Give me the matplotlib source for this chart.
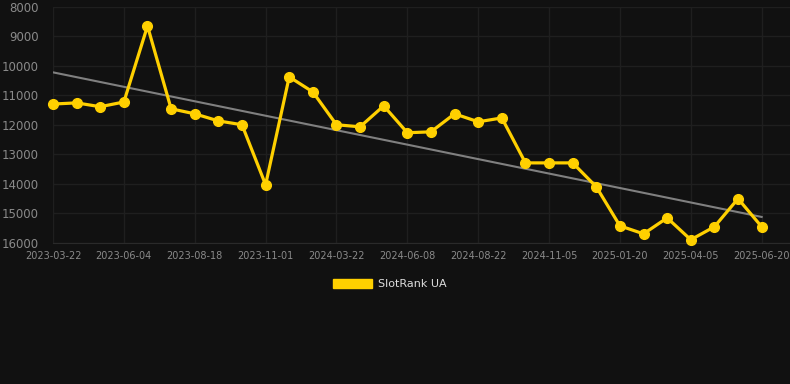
import numpy as np
import matplotlib.pyplot as plt

# SlotRank UA position over time (lower is better, axis inverted)
dates = ["2023-03-22", "", "", "2023-06-04", "", "", "2023-08-18", "", "",
         "2023-11-01", "", "", "2024-03-22", "", "", "2024-06-08", "", "",
         "2024-08-22", "", "", "2024-11-05", "", "", "2025-01-20", "", "",
         "2025-04-05", "", "", "2025-06-20"]
rank = [11300, 11260, 11390, 11230, 8660, 11460, 11630, 11870, 12000, 14030,
        10380, 10890, 12000, 12070, 11360, 12270, 12240, 11630, 11900, 11770,
        13290, 13290, 13290, 14100, 15420, 15690, 15150, 15890, 15450, 14500,
        15450]
y_ticks = [8000, 9000, 10000, 11000, 12000, 13000, 14000, 15000, 16000]

bg = "#111111"
yellow = "#ffd000"

x = np.arange(len(rank))
slope, icpt = np.polyfit(x, rank, 1)

fig = plt.figure(figsize=(7.9, 3.84), dpi=100, facecolor=bg)
ax = fig.add_axes([53 / 790, 1 - 243 / 384, 737 / 790, 236.5 / 384])
ax.set_facecolor(bg)

ax.plot(x, slope * x + icpt, color="#808080", lw=1.5, zorder=2)
ax.plot(x, rank, color=yellow, lw=2.3, marker="o", ms=7,
        clip_on=False, zorder=3, label="SlotRank UA")

ax.set_xlim(0, 31.2)
ax.set_ylim(16000, 8000)
ax.set_yticks(y_ticks)
ax.set_yticklabels([str(v) for v in y_ticks])
tick_pos = [i for i, d in enumerate(dates) if d]
ax.set_xticks(tick_pos)
ax.set_xticklabels([dates[i] for i in tick_pos])

ax.grid(True, color="#1f1f1f", lw=1)
ax.set_axisbelow(True)
for s in ["top", "right", "left"]:
    ax.spines[s].set_visible(False)
ax.spines["bottom"].set_color("#2a2a2a")
ax.tick_params(axis="y", length=0, pad=10, labelsize=8.5, labelcolor="#8a8a8a")
ax.tick_params(axis="x", length=0, pad=6, labelsize=7, labelcolor="#8a8a8a")

handle = plt.Rectangle((0, 0), 1, 1, color=yellow)
fig.legend([handle], ["SlotRank UA"], loc="center", bbox_to_anchor=(390 / 790, 1 - 284 / 384),
           frameon=False, fontsize=8, labelcolor="#dddddd",
           handlelength=3.5, handleheight=0.9, handletextpad=0.5)

fig.savefig("out.png", dpi=100, facecolor=bg)
